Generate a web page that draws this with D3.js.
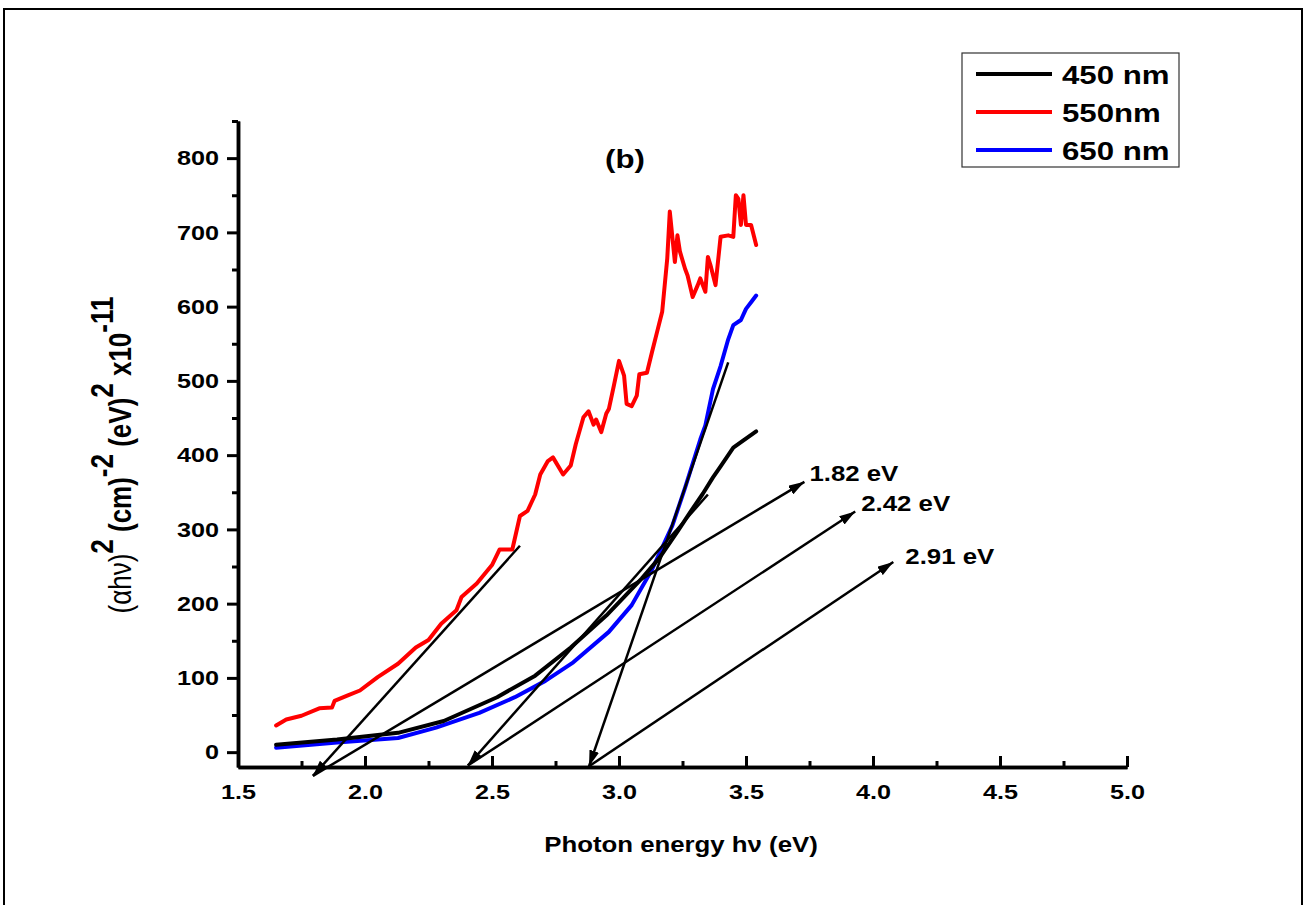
<!DOCTYPE html>
<html>
<head>
<meta charset="utf-8">
<script src="https://cdn.jsdelivr.net/npm/d3@7"></script>
<style>
  body { margin: 0; background: #fff; }
  svg { display: block; }
  text { font-family: Arial, "Liberation Sans", sans-serif; font-weight: bold; fill: #000; }
</style>
</head>
<body>
<svg id="chart" width="1308" height="905"></svg>
<script>
// ---- Tauc plot data: (alpha h nu)^2 vs photon energy ----
const energy450 = [1.65, 1.89, 2.13, 2.31, 2.52, 2.67, 2.81, 2.95, 3.09, 3.16, 3.23, 3.28, 3.33, 3.37, 3.40, 3.45, 3.49, 3.54];
const tauc450   = [10, 17, 26, 42, 74, 103, 141, 184, 234, 262, 297, 323, 348, 370, 385, 410, 420, 432];

const energy550 = [1.65, 1.69, 1.75, 1.82, 1.87, 1.88, 1.93, 1.98, 2.05, 2.13, 2.20, 2.25, 2.30, 2.36, 2.38, 2.44,
                   2.50, 2.53, 2.58, 2.61, 2.64, 2.67, 2.69, 2.72, 2.74, 2.78, 2.81, 2.83, 2.86, 2.88, 2.90, 2.91,
                   2.93, 2.95, 2.96, 2.98, 3.00, 3.02, 3.03, 3.05, 3.07, 3.08, 3.11, 3.13, 3.15, 3.17, 3.19, 3.20,
                   3.22, 3.23, 3.24, 3.26, 3.27, 3.29, 3.31, 3.32, 3.34, 3.35, 3.36, 3.38, 3.40, 3.43, 3.45, 3.46,
                   3.47, 3.48, 3.49, 3.50, 3.52, 3.54];
const tauc550   = [36, 44, 49, 59, 60, 69, 76, 83, 101, 119, 141, 151, 173, 191, 209, 227,
                   252, 273, 273, 318, 325, 347, 374, 392, 397, 374, 386, 415, 451, 459, 441, 448,
                   431, 456, 462, 494, 527, 507, 469, 466, 480, 509, 511, 539, 566, 593, 665, 728,
                   660, 696, 674, 651, 642, 613, 629, 638, 620, 667, 656, 629, 694, 696, 694, 750,
                   745, 710, 750, 710, 710, 683];

const energy650 = [1.65, 1.89, 2.13, 2.28, 2.45, 2.59, 2.71, 2.82, 2.96, 3.05, 3.13, 3.21, 3.26, 3.32, 3.34,
                   3.37, 3.40, 3.43, 3.45, 3.48, 3.50, 3.52, 3.54];
const tauc650   = [6, 13, 19, 33, 53, 74, 96, 121, 162, 198, 246, 305, 356, 421, 440,
                   489, 520, 556, 575, 582, 597, 606, 615];

const seriesNames  = ["450 nm", "550nm", "650 nm"];
const seriesColors = ["#000000", "#ff0000", "#0000ff"];

// Linear-fit extrapolations to the energy axis (top point -> intercept)
const fitTopE    = [2.61, 3.35, 3.43];
const fitTopV    = [278, 347, 525];
const fitBottomE = [1.795, 2.405, 2.882];
const fitBottomV = [-32, -18, -19];

// Band-gap call-outs
const gapLabels  = ["1.82 eV", "2.42 eV", "2.91 eV"];
const gapTailE   = [1.795, 2.405, 2.882];
const gapTailV   = [-32, -18, -19];
const gapHeadE   = [3.73, 3.93, 4.08];
const gapHeadV   = [364, 324, 256];

const xTicks = [1.5, 2.0, 2.5, 3.0, 3.5, 4.0, 4.5, 5.0];
const xMinor = [1.75, 2.25, 2.75, 3.25, 3.75, 4.25, 4.75];
const yTicks = [0, 100, 200, 300, 400, 500, 600, 700, 800];
const yMinor = [50, 150, 250, 350, 450, 550, 650, 750, 850];

// ---- layout ----
const svg = d3.select("#chart");
const x = d3.scaleLinear().domain([1.5, 5.0]).range([238, 1127]);
const y = d3.scaleLinear().domain([-20, 850]).range([767, 121]);
const widen = 1.2;   // lettering is set slightly wide

// outer frame
svg.append("path")
  .attr("d", "M4,905 L4,9 L1302,9 L1302,905")
  .attr("fill", "none").attr("stroke", "#000").attr("stroke-width", 2);

// arrowhead marker
const defs = svg.append("defs");
defs.append("marker")
  .attr("id", "head")
  .attr("viewBox", "0 -5 16 10")
  .attr("refX", 16).attr("refY", 0)
  .attr("markerWidth", 16).attr("markerHeight", 10)
  .attr("markerUnits", "userSpaceOnUse")
  .attr("orient", "auto")
  .append("path").attr("d", "M0,-5 L16,0 L0,5 Z").attr("fill", "#000");

// ---- axes ----
const xAxis = svg.append("g").attr("transform", `translate(0,${y(-20)})`)
  .call(d3.axisBottom(x).tickValues(xTicks).tickSizeInner(-11).tickSizeOuter(0)
        .tickPadding(17).tickFormat(d3.format(".1f")));
const xMinorAxis = svg.append("g").attr("transform", `translate(0,${y(-20)})`)
  .call(d3.axisBottom(x).tickValues(xMinor).tickSizeInner(-6).tickSizeOuter(0).tickFormat(""));

const yAxis = svg.append("g").attr("transform", `translate(${x(1.5)},0)`)
  .call(d3.axisLeft(y).tickValues(yTicks).tickSizeInner(11).tickSizeOuter(0).tickPadding(8));
const yMinorAxis = svg.append("g").attr("transform", `translate(${x(1.5)},0)`)
  .call(d3.axisLeft(y).tickValues(yMinor).tickSizeInner(6).tickSizeOuter(0).tickFormat(""));

[xAxis, xMinorAxis, yAxis, yMinorAxis].forEach(g => {
  g.selectAll(".domain").attr("stroke", "#000").attr("stroke-width", 3.5);
  g.selectAll(".tick line").attr("stroke", "#000").attr("stroke-width", 3);
  g.selectAll(".tick text").attr("font-size", 21).attr("font-family", "Arial, 'Liberation Sans', sans-serif")
    .attr("font-weight", "bold").attr("fill", "#000")
    .attr("transform", `scale(${widen},1)`);
});
xAxis.selectAll(".tick text").attr("dy", "0.71em");
yAxis.selectAll(".tick text").attr("x", -19 / widen);

// axis titles
svg.append("text")
  .attr("transform", `translate(681,852) scale(${widen},1)`)
  .attr("text-anchor", "middle").attr("font-size", 21.5)
  .text("Photon energy h\u03bd (eV)");

const yTitle = svg.append("text")
  .attr("transform", `translate(131,455) scale(${widen},1) rotate(-90)`)
  .attr("text-anchor", "middle").attr("font-size", 26);
yTitle.append("tspan").attr("font-weight", "normal").text("(\u03b1h\u03bd)");
yTitle.append("tspan").attr("dy", -15).text("2");
yTitle.append("tspan").attr("dy", 15).text(" (cm)");
yTitle.append("tspan").attr("dy", -15).text("-2");
yTitle.append("tspan").attr("dy", 15).text(" (eV)");
yTitle.append("tspan").attr("dy", -15).text("2");
yTitle.append("tspan").attr("dy", 15).text(" x10");
yTitle.append("tspan").attr("dy", -15).text("-11");

// panel tag
svg.append("text")
  .attr("transform", `translate(625,168) scale(${widen},1)`)
  .attr("text-anchor", "middle").attr("font-size", 26).text("(b)");

// ---- curves ----
const line = d3.line().x(d => x(d[0])).y(d => y(d[1]));
const curves = [
  { data: d3.zip(energy650, tauc650), color: seriesColors[2] },
  { data: d3.zip(energy550, tauc550), color: seriesColors[1] },
  { data: d3.zip(energy450, tauc450), color: seriesColors[0] }
];
svg.append("g").selectAll("path").data(curves).join("path")
  .attr("d", d => line(d.data))
  .attr("fill", "none")
  .attr("stroke", d => d.color)
  .attr("stroke-width", 4)
  .attr("stroke-linejoin", "round")
  .attr("stroke-linecap", "round");

// ---- linear extrapolations ----
const fits = svg.append("g");
fitTopE.forEach((e, i) => {
  fits.append("line")
    .attr("x1", x(e)).attr("y1", y(fitTopV[i]))
    .attr("x2", x(fitBottomE[i])).attr("y2", y(fitBottomV[i]))
    .attr("stroke", "#000").attr("stroke-width", 2.5)
    .attr("marker-end", "url(#head)");
});

// ---- band-gap call-outs ----
const calls = svg.append("g");
gapLabels.forEach((lab, i) => {
  calls.append("line")
    .attr("x1", x(gapTailE[i])).attr("y1", y(gapTailV[i]))
    .attr("x2", x(gapHeadE[i])).attr("y2", y(gapHeadV[i]))
    .attr("stroke", "#000").attr("stroke-width", 2.5)
    .attr("marker-end", "url(#head)");
});
const labelDx = [5, 6, 12];
const labelDy = [-1, -1, 2];
gapLabels.forEach((lab, i) => {
  calls.append("text")
    .attr("transform", `translate(${x(gapHeadE[i]) + labelDx[i]},${y(gapHeadV[i]) + labelDy[i]}) scale(${widen},1)`)
    .attr("font-size", 21.5)
    .text(lab);
});

// ---- legend ----
const legend = svg.append("g");
legend.append("rect").attr("x", 962).attr("y", 53).attr("width", 217).attr("height", 114)
  .attr("fill", "#fff").attr("stroke", "#333").attr("stroke-width", 1.2);
seriesNames.forEach((name, i) => {
  const cy = 74 + i * 38;
  legend.append("line").attr("x1", 976).attr("x2", 1052).attr("y1", cy).attr("y2", cy)
    .attr("stroke", seriesColors[i]).attr("stroke-width", 4);
  legend.append("text")
    .attr("transform", `translate(1062,${cy + 9.5}) scale(${widen},1)`)
    .attr("font-size", 26).text(name);
});
</script>
</body>
</html>
